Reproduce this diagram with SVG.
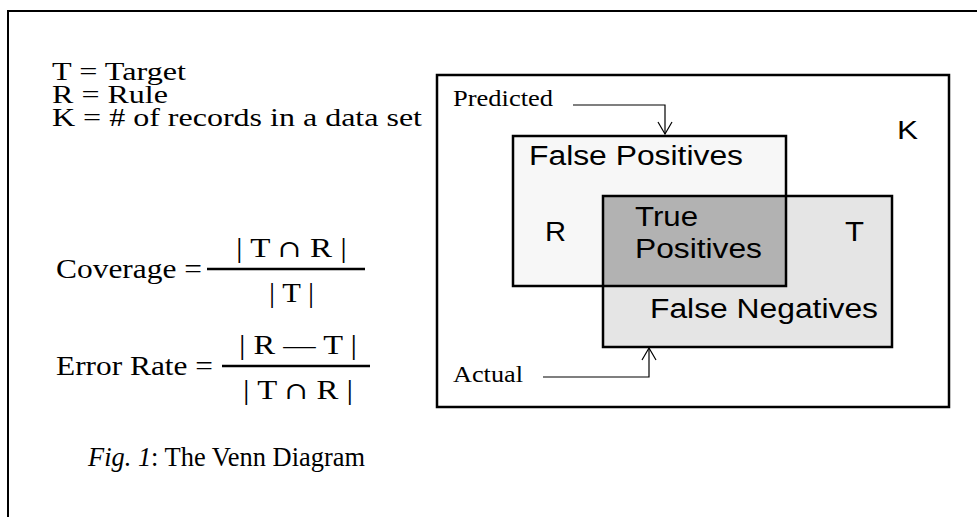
<svg xmlns="http://www.w3.org/2000/svg" width="977" height="517" viewBox="0 0 977 517">
<style>
.serif{font-family:"Liberation Serif","Times New Roman",serif;fill:#000}
.sans{font-family:"Liberation Sans",Arial,sans-serif;fill:#000}
.cap{font-family:"DejaVu Serif",serif;font-size:24px}
.box{stroke:#000;stroke-width:2.5}
.thin{stroke:#000;stroke-width:1.2;fill:none}
</style>
<defs>
<marker id="v" viewBox="0 0 14 16" refX="13" refY="8" markerWidth="14" markerHeight="16" markerUnits="userSpaceOnUse" orient="auto">
<path d="M1,1 L13,8 L1,15" fill="none" stroke="#000" stroke-width="1.2"/>
</marker>
</defs>
<rect width="977" height="517" fill="#fff"/>
<path d="M8,517 L8,11 L977,11" fill="none" stroke="#000" stroke-width="2"/>
<g id="legend" class="serif" font-size="26">
<text x="52" y="80" textLength="134" lengthAdjust="spacingAndGlyphs">T = Target</text>
<text x="52" y="103" textLength="116" lengthAdjust="spacingAndGlyphs">R = Rule</text>
<text x="52" y="126" textLength="370" lengthAdjust="spacingAndGlyphs">K = # of records in a data set</text>
</g>
<g id="coverage" class="serif" font-size="28">
<text x="56" y="278" textLength="146" lengthAdjust="spacingAndGlyphs">Coverage =</text>
<line x1="207" y1="269" x2="365" y2="269" stroke="#000" stroke-width="2.5"/>
<text x="236" y="257" textLength="111" lengthAdjust="spacingAndGlyphs">| T <tspan class="cap">∩</tspan> R |</text>
<text x="269" y="302" textLength="45" lengthAdjust="spacingAndGlyphs">| T |</text>
</g>
<g id="error-rate" class="serif" font-size="28">
<text x="56" y="375" textLength="157" lengthAdjust="spacingAndGlyphs">Error Rate =</text>
<line x1="222" y1="366" x2="370" y2="366" stroke="#000" stroke-width="2.5"/>
<text x="239" y="354" textLength="118" lengthAdjust="spacingAndGlyphs">| R — T |</text>
<text x="243" y="399" textLength="110" lengthAdjust="spacingAndGlyphs">| T <tspan class="cap">∩</tspan> R |</text>
</g>
<g id="venn-K">
<rect x="437" y="75" width="512" height="332" fill="#fff" class="box"/>
<text class="sans" x="897" y="139" font-size="26" textLength="21" lengthAdjust="spacingAndGlyphs">K</text>
</g>
<g id="fills">
<rect x="513" y="136" width="273" height="150" fill="#f7f7f7"/>
<rect x="603" y="196" width="289" height="151" fill="#e5e5e5"/>
<rect x="603" y="196" width="183" height="90" fill="#b2b2b2"/>
</g>
<g id="R">
<rect x="513" y="136" width="273" height="150" fill="none" class="box"/>
<text class="sans" x="529" y="165" font-size="27" textLength="214" lengthAdjust="spacingAndGlyphs">False Positives</text>
<text class="sans" x="545" y="241" font-size="27" textLength="21" lengthAdjust="spacingAndGlyphs">R</text>
</g>
<g id="T">
<rect x="603" y="196" width="289" height="151" fill="none" class="box"/>
<text class="sans" x="845" y="241" font-size="27" textLength="19" lengthAdjust="spacingAndGlyphs">T</text>
<text class="sans" x="650" y="318" font-size="27" textLength="228" lengthAdjust="spacingAndGlyphs">False Negatives</text>
</g>
<g id="TP">
<text class="sans" x="635" y="226" font-size="27" textLength="63" lengthAdjust="spacingAndGlyphs">True</text>
<text class="sans" x="635" y="258" font-size="27" textLength="127" lengthAdjust="spacingAndGlyphs">Positives</text>
</g>
<g id="predicted">
<text class="serif" x="453" y="106" font-size="23" textLength="100" lengthAdjust="spacingAndGlyphs">Predicted</text>
</g>
<g id="actual">
<text class="serif" x="453" y="382" font-size="23" textLength="70" lengthAdjust="spacingAndGlyphs">Actual</text>
</g>
<g id="connectors">
<path class="thin" d="M573,105 L665,105 L665,134" marker-end="url(#v)"/>
<path class="thin" d="M543,377 L649,377 L649,348" marker-end="url(#v)"/>
</g>
<g id="caption" class="serif" font-size="27">
<text x="88" y="466" textLength="277" lengthAdjust="spacingAndGlyphs"><tspan font-style="italic">Fig. 1</tspan>: The Venn Diagram</text>
</g>
</svg>
